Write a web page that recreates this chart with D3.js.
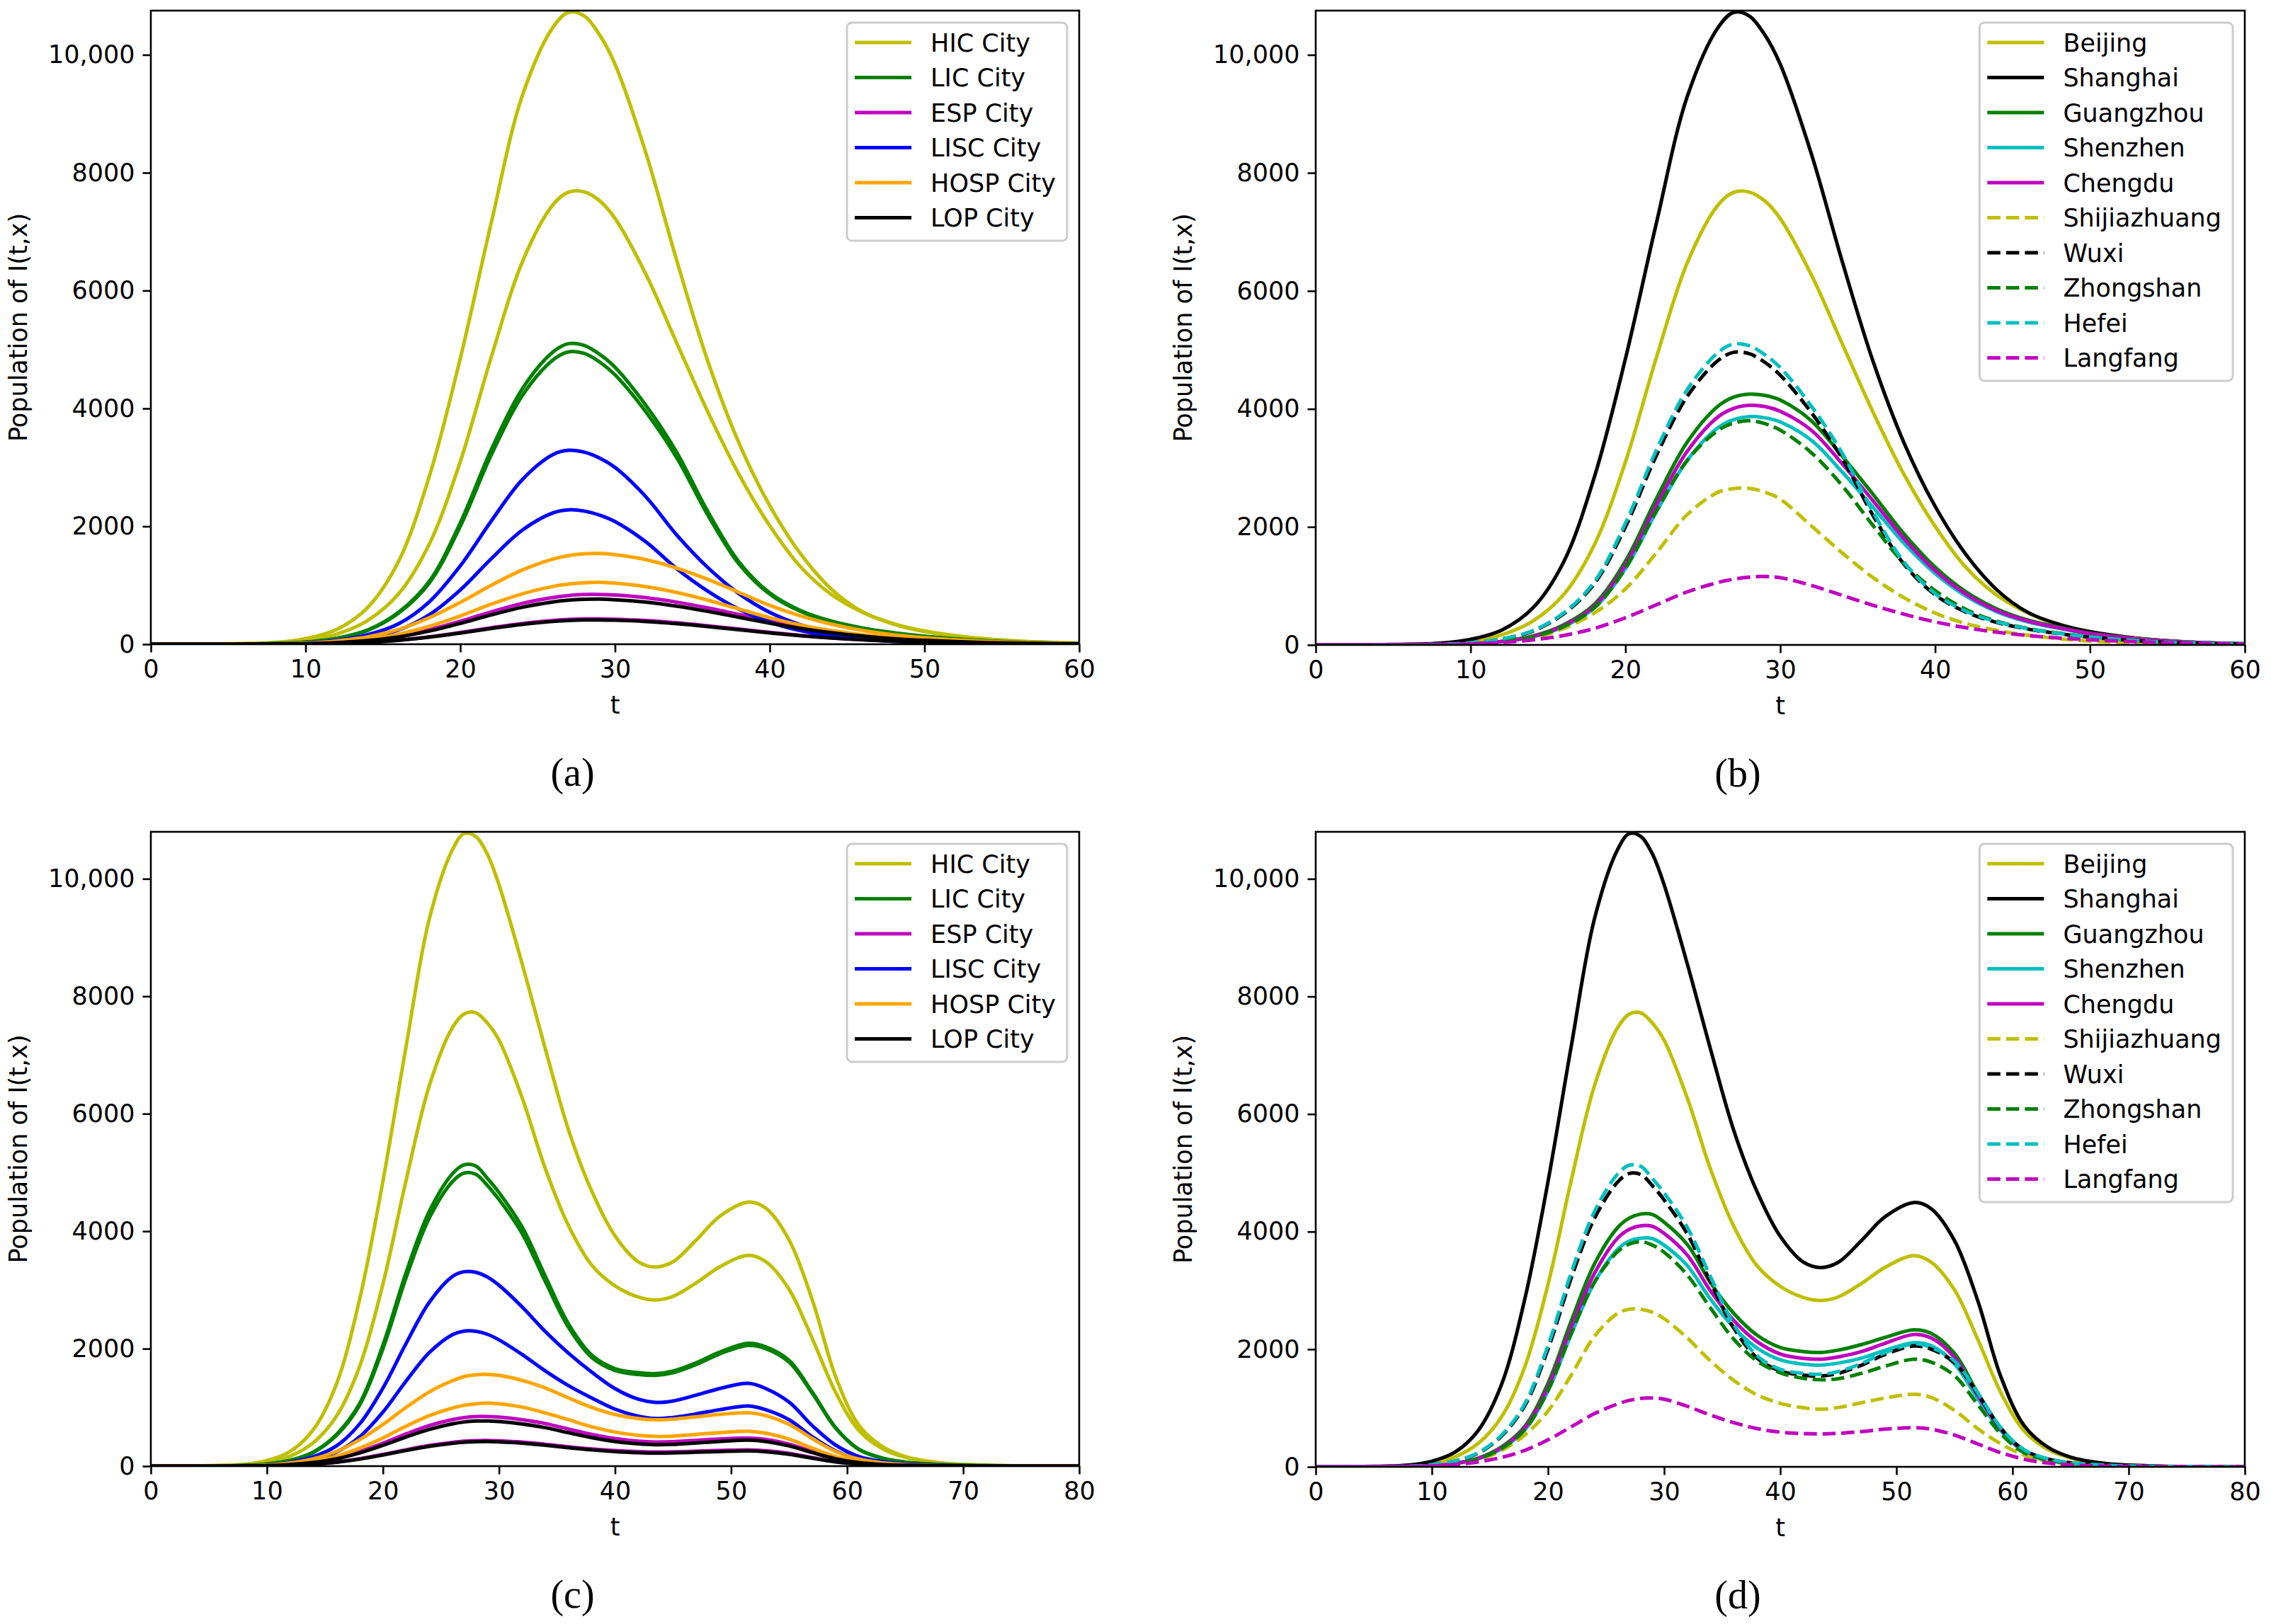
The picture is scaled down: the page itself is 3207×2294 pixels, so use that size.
<!DOCTYPE html>
<html>
<head>
<meta charset="utf-8">
<title>Population of I(t,x) by city</title>
<script src="https://d3js.org/d3.v7.min.js"></script>
<style>
  body { margin: 0; background: #fff; }
  text { font-family: "DejaVu Sans", sans-serif; fill: #000; }
  .caption { font-family: "Liberation Serif", "Times New Roman", serif; }
</style>
</head>
<body>
<svg id="fig" width="3207" height="2294"></svg>
<script>
// time grids
const tOne = [0,4,8,10,12,14,16,18,20,22,24,26,27,28,29,30,32,34,36,38,40,42,44,46,48,50,53,56,60];
const tTwo = [0,4,8,10,12,14,16,18,20,22,24,26,27,28,29,30,32,34,36,38,40,42,43.5,45,47,49,51.5,53,55,57,59,61,63,65,68,72,76,80];

const yTicks = [0, 2000, 4000, 6000, 8000, 10000];
const yTickLabels = ["0", "2000", "4000", "6000", "8000", "10,000"];

// one wave (panels a, b) - read on tOne
const shanghai1    = [0,5,30,95,250,620,1400,2850,4850,7150,9300,10470,10720,10660,10340,9840,8330,6500,4800,3420,2350,1530,930,550,350,225,115,55,18];
const beijing1     = [0,4,20,60,170,400,850,1700,3100,4870,6480,7460,7670,7675,7525,7225,6275,5105,3940,2885,2010,1310,840,540,340,215,110,52,17];
const guangzhou1   = [0,2,8,20,60,150,340,690,1420,2480,3440,4050,4200,4250,4230,4150,3800,3200,2550,1880,1320,900,610,420,300,200,110,55,20];
const shenzhen1    = [0,2,7,18,55,137,310,628,1290,2255,3130,3685,3820,3870,3850,3780,3470,2930,2330,1720,1210,825,560,390,280,190,100,50,18];
const chengdu1     = [0,2,8,19,57,143,325,660,1355,2370,3285,3870,4010,4060,4040,3960,3640,3070,2440,1800,1260,860,580,405,290,195,105,52,19];
const shijiazhuang1= [0,1,7,22,55,115,280,540,950,1560,2210,2590,2650,2655,2590,2470,2020,1560,1140,800,540,360,245,165,105,66,33,16,5];
const wuxi1        = [0,3,12,34,97,233,525,1040,2000,3210,4215,4825,4960,4935,4790,4570,3940,3160,2190,1365,850,555,380,268,190,132,70,35,12];
const zhongshan1   = [0,2,7,18,55,137,310,630,1300,2270,3130,3640,3760,3800,3750,3640,3260,2700,2020,1380,920,600,400,280,200,140,75,38,14];
const hefei1       = [0,3,12,35,100,240,540,1070,2060,3300,4330,4960,5100,5070,4920,4700,4050,3250,2250,1400,870,570,390,275,195,135,72,36,12];
const langfang1    = [0,1,5,15,40,85,160,280,460,680,900,1060,1115,1150,1160,1140,1010,840,670,520,390,290,215,160,118,88,55,30,12];

const liscHi1 = [0,1,7,22,65,160,345,720,1330,2090,2790,3220,3290,3260,3160,3000,2500,1850,1300,860,540,330,200,120,75,45,22,11,4];
const liscLo1 = [0,1,5,15,45,111,240,500,920,1450,1935,2230,2280,2260,2190,2080,1735,1280,900,595,375,230,140,83,52,31,15,8,3];
const hospHi1 = [0,1,6,18,55,125,250,450,710,1000,1260,1445,1505,1535,1540,1520,1435,1290,1100,880,660,480,340,235,160,110,60,30,10];
const hospLo1 = [0,1,4,12,37,85,170,305,480,680,855,980,1020,1043,1050,1035,975,877,748,598,449,326,231,160,109,75,41,20,7];
const espHi1  = [0,0,3,10,30,69,137,247,390,549,692,793,826,843,845,834,790,713,615,505,395,296,214,151,104,71,38,19,7];
const espLo1  = [0,0,2,5,15,35,70,126,198,279,352,403,420,428,430,424,402,363,312,257,201,151,109,77,53,36,20,10,3];
const lopHi1  = [0,0,3,9,27,62,124,224,353,497,626,718,748,763,765,755,716,646,557,457,358,268,194,137,94,65,35,17,6];
const lopLo1  = [0,0,2,5,15,33,67,120,190,267,337,387,403,411,412,407,385,348,300,246,193,144,104,74,51,35,19,9,3];

// two waves (panels c, d) - read on tTwo
const shanghai2    = [0,5,30,95,250,620,1400,2850,4850,7150,9320,10500,10770,10720,10420,9900,8550,7100,5720,4680,3920,3480,3390,3480,3850,4250,4495,4390,3850,2830,1530,700,340,165,58,16,5,1];
const beijing2     = [0,4,20,60,170,400,850,1700,3100,4870,6480,7470,7700,7720,7545,7255,6270,5060,4090,3420,3070,2880,2830,2890,3120,3390,3590,3480,3010,2170,1260,610,300,150,50,15,4,1];
const guangzhou2   = [0,2,8,20,60,150,340,690,1420,2480,3450,4070,4230,4300,4290,4160,3780,3130,2610,2240,2030,1960,1945,1985,2080,2200,2330,2270,1930,1260,660,270,130,65,25,8,2,0];
const shenzhen2    = [0,2,7,18,55,137,310,628,1290,2255,3135,3700,3840,3890,3880,3770,3420,2850,2370,2020,1820,1745,1730,1765,1850,1980,2110,2060,1750,1160,610,255,120,60,23,7,2,0];
const chengdu2     = [0,2,8,19,57,143,325,660,1355,2370,3290,3890,4040,4100,4090,3970,3600,2990,2490,2130,1920,1845,1830,1870,1960,2100,2250,2190,1860,1220,640,265,125,62,24,8,2,0];
const shijiazhuang2= [0,1,7,22,55,115,280,540,950,1560,2220,2610,2680,2680,2630,2520,2190,1800,1470,1225,1080,1005,980,1010,1090,1170,1235,1180,960,650,390,200,95,45,16,5,1,0];
const wuxi2        = [0,3,12,34,97,233,525,1040,2000,3210,4225,4845,4990,4970,4780,4540,3960,3140,2360,1850,1630,1560,1546,1590,1730,1910,2055,2000,1770,1240,650,285,135,68,27,8,2,0];
const zhongshan2   = [0,2,7,18,55,137,310,630,1300,2270,3140,3660,3790,3830,3770,3650,3260,2700,2170,1800,1600,1505,1480,1500,1590,1710,1830,1780,1550,1060,560,240,115,57,22,7,2,0];
const hefei2       = [0,3,12,35,100,240,540,1070,2060,3300,4340,4980,5130,5110,4900,4660,4070,3230,2420,1890,1660,1590,1575,1620,1760,1940,2090,2030,1800,1260,660,290,140,70,28,8,2,0];
const langfang2    = [0,1,5,15,40,85,160,280,460,680,905,1070,1130,1165,1170,1150,1030,880,750,650,590,565,560,570,600,640,665,640,540,390,240,130,65,32,12,4,1,0];

const liscHi2 = [0,1,7,22,65,160,345,720,1330,2090,2790,3230,3310,3300,3220,3080,2710,2290,1920,1600,1320,1140,1085,1110,1210,1320,1410,1320,1090,690,360,165,80,40,15,5,1,0];
const liscLo2 = [0,1,5,15,45,111,240,500,920,1450,1935,2240,2300,2295,2245,2150,1900,1620,1370,1160,970,850,810,830,890,960,1025,960,790,500,260,120,58,28,10,3,1,0];
const hospHi2 = [0,1,6,18,55,125,250,450,710,1000,1265,1455,1525,1555,1562,1545,1460,1330,1160,1000,880,810,790,800,840,880,910,860,710,470,250,120,58,28,10,3,1,0];
const hospLo2 = [0,1,4,12,37,85,170,305,480,680,860,990,1035,1062,1074,1060,1005,905,790,670,580,525,505,510,540,570,594,560,460,305,165,80,38,18,7,2,0,0];
const espHi2  = [0,0,3,10,30,69,137,247,390,549,692,793,826,843,845,834,790,725,630,540,470,425,410,415,440,462,480,455,375,250,135,65,30,15,5,2,0,0];
const espLo2  = [0,0,2,5,15,35,70,126,198,279,352,405,425,435,437,431,410,372,330,293,265,248,240,243,255,267,277,263,218,145,78,38,18,9,3,1,0,0];
const lopHi2  = [0,0,3,9,27,62,124,224,353,497,626,720,752,767,768,758,718,655,568,485,420,380,365,370,395,420,442,420,345,230,125,60,28,14,5,2,0,0];
const lopLo2  = [0,0,2,5,15,33,67,120,190,267,337,390,408,416,418,413,392,355,313,276,248,230,222,225,237,248,258,245,203,135,73,35,17,8,3,1,0,0];

const C = { y: "#bfbf00", g: "#008000", m: "#bf00bf", b: "#0000ff", o: "#ffa500", k: "#000000", c: "#00bfbf" };

function typeSeries(hic, lic, esp, lisc, hosp, lop) {
  return [
    { label: "HIC City",  color: C.y, data: hic },
    { label: "LIC City",  color: C.g, data: lic },
    { label: "ESP City",  color: C.m, data: esp },
    { label: "LISC City", color: C.b, data: lisc },
    { label: "HOSP City", color: C.o, data: hosp },
    { label: "LOP City",  color: C.k, data: lop }
  ];
}

function citySeries(d) {
  return [
    { label: "Beijing",      color: C.y, data: [d.beijing] },
    { label: "Shanghai",     color: C.k, data: [d.shanghai] },
    { label: "Guangzhou",    color: C.g, data: [d.guangzhou] },
    { label: "Shenzhen",     color: C.c, data: [d.shenzhen] },
    { label: "Chengdu",      color: C.m, data: [d.chengdu] },
    { label: "Shijiazhuang", color: C.y, data: [d.shijiazhuang], dash: true },
    { label: "Wuxi",         color: C.k, data: [d.wuxi], dash: true },
    { label: "Zhongshan",    color: C.g, data: [d.zhongshan], dash: true },
    { label: "Hefei",        color: C.c, data: [d.hefei], dash: true },
    { label: "Langfang",     color: C.m, data: [d.langfang], dash: true }
  ];
}

const panels = [
  { left: 213, top: 15, w: 1311, h: 895, t: tOne, xMax: 60, yMax: 10750, caption: "(a)",
    series: typeSeries([beijing1, shanghai1], [wuxi1, hefei1], [espLo1, espHi1],
                       [liscLo1, liscHi1], [hospLo1, hospHi1], [lopLo1, lopHi1]) },
  { left: 1858, top: 15, w: 1312, h: 896, t: tOne, xMax: 60, yMax: 10750, caption: "(b)",
    series: citySeries({ beijing: beijing1, shanghai: shanghai1, guangzhou: guangzhou1, shenzhen: shenzhen1,
      chengdu: chengdu1, shijiazhuang: shijiazhuang1, wuxi: wuxi1, zhongshan: zhongshan1, hefei: hefei1, langfang: langfang1 }) },
  { left: 213, top: 1175, w: 1311, h: 896, t: tTwo, xMax: 80, yMax: 10800, caption: "(c)",
    series: typeSeries([beijing2, shanghai2], [wuxi2, hefei2], [espLo2, espHi2],
                       [liscLo2, liscHi2], [hospLo2, hospHi2], [lopLo2, lopHi2]) },
  { left: 1858, top: 1175, w: 1312, h: 897, t: tTwo, xMax: 80, yMax: 10800, caption: "(d)",
    series: citySeries({ beijing: beijing2, shanghai: shanghai2, guangzhou: guangzhou2, shenzhen: shenzhen2,
      chengdu: chengdu2, shijiazhuang: shijiazhuang2, wuxi: wuxi2, zhongshan: zhongshan2, hefei: hefei2, langfang: langfang2 }) }
];

const svg = d3.select("#fig");
const FS = 35;

panels.forEach(function(p, pi) {
  const g = svg.append("g").attr("transform", "translate(" + p.left + "," + p.top + ")");
  const x = d3.scaleLinear().domain([0, p.xMax]).range([0, p.w]);
  const y = d3.scaleLinear().domain([0, p.yMax]).range([p.h, 0]);

  g.append("clipPath").attr("id", "clip" + pi)
    .append("rect").attr("width", p.w).attr("height", p.h);

  const line = d3.line()
    .x(function(d) { return x(d[0]); })
    .y(function(d) { return y(d[1]); })
    .curve(d3.curveCatmullRom.alpha(0.5));

  const plot = g.append("g").attr("clip-path", "url(#clip" + pi + ")");
  p.series.forEach(function(s) {
    s.data.forEach(function(vals) {
      plot.append("path")
        .datum(p.t.map(function(tv, i) { return [tv, vals[i]]; }))
        .attr("d", line)
        .attr("fill", "none")
        .attr("stroke", s.color)
        .attr("stroke-width", 5)
        .attr("stroke-dasharray", s.dash ? "18.5,8" : null);
    });
  });

  // axes
  const xAxis = g.append("g").attr("transform", "translate(0," + p.h + ")")
    .call(d3.axisBottom(x).ticks(p.xMax / 10).tickSize(11.5).tickPadding(11));
  const yAxis = g.append("g")
    .call(d3.axisLeft(y).tickValues(yTicks).tickFormat(function(d, i) { return yTickLabels[i]; })
      .tickSize(11.5).tickPadding(11));
  [xAxis, yAxis].forEach(function(a) {
    a.attr("font-size", FS).attr("font-family", null);
    a.select(".domain").remove();
    a.selectAll(".tick line").attr("stroke", "#000").attr("stroke-width", 2.6);
    a.selectAll(".tick text").attr("fill", "#000");
  });

  g.append("rect").attr("width", p.w).attr("height", p.h)
    .attr("fill", "none").attr("stroke", "#000").attr("stroke-width", 2.6);

  g.append("text").attr("x", p.w / 2).attr("y", p.h + 98)
    .attr("text-anchor", "middle").attr("font-size", FS).text("t");
  g.append("text")
    .attr("transform", "translate(-175," + (p.h / 2) + ") rotate(-90)")
    .attr("text-anchor", "middle").attr("font-size", FS).text("Population of I(t,x)");

  g.append("text").attr("class", "caption")
    .attr("x", p.w / 2 - 60).attr("y", p.h + 200)
    .attr("text-anchor", "middle").attr("font-size", 56).text(p.caption);

  // legend
  const rowH = 49.5;
  const lg = g.append("g");
  const box = lg.append("rect").attr("rx", 7).attr("ry", 7)
    .attr("fill", "#fff").attr("fill-opacity", 0.8)
    .attr("stroke", "#cccccc").attr("stroke-width", 3);
  let maxW = 0;
  p.series.forEach(function(s, i) {
    const cy = 28 + i * rowH;
    lg.append("line").attr("x1", 11).attr("x2", 91).attr("y1", cy).attr("y2", cy)
      .attr("stroke", s.color).attr("stroke-width", 5)
      .attr("stroke-dasharray", s.dash ? "18.5,8" : null);
    const tx = lg.append("text").attr("x", 118).attr("y", cy).attr("dy", "0.36em")
      .attr("font-size", FS).text(s.label);
    maxW = Math.max(maxW, tx.node().getComputedTextLength());
  });
  const bw = 118 + maxW + 16;
  const bh = p.series.length * rowH + 11;
  box.attr("width", bw).attr("height", bh);
  lg.attr("transform", "translate(" + (p.w - 17 - bw) + ",17)");
});
</script>
</body>
</html>
